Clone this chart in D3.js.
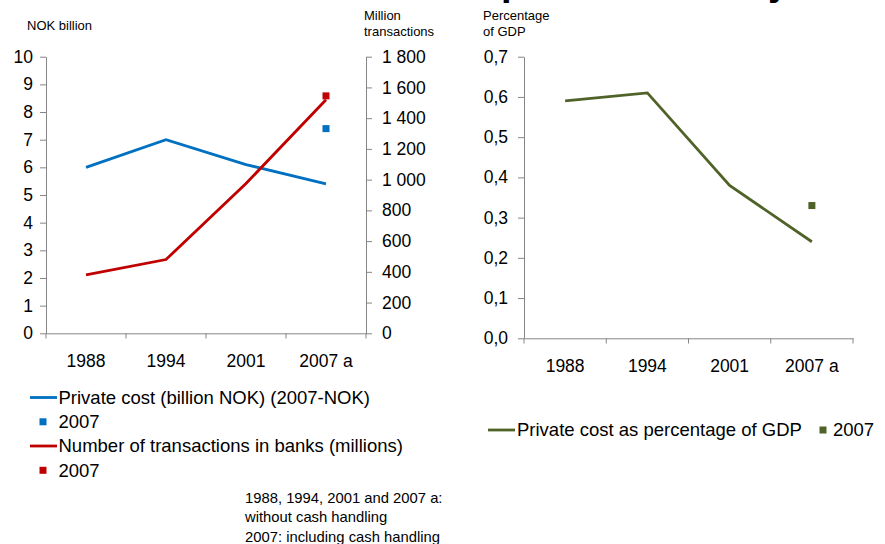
<!DOCTYPE html>
<html><head><meta charset="utf-8">
<script src="https://cdn.jsdelivr.net/npm/d3@7"></script>
<style>
html,body{margin:0;padding:0;background:#fff;}
svg{display:block;font-family:"Liberation Sans",Arial,sans-serif;}
</style></head>
<body>
<svg id="c" width="885" height="544"></svg>
<script>
// ---- data ----
const categories = ["1988", "1994", "2001", "2007 a"];
const privateCost = [6.0, 7.0, 6.1, 5.4];          // NOK billion
const privateCost2007 = 7.4;                          // incl. cash handling
const transactions = [380, 480, 975, 1520];         // million transactions
const transactions2007 = 1545;
const costPctGDP = [0.59, 0.61, 0.38, 0.24];        // % of GDP
const costPctGDP2007 = 0.33;
const leftTicks = [0,1,2,3,4,5,6,7,8,9,10];
const rightTicks = [0,200,400,600,800,1000,1200,1400,1600,1800];
const gdpTicks = [0,0.1,0.2,0.3,0.4,0.5,0.6,0.7];
const legendLeft = ["Private cost (billion NOK) (2007-NOK)", "2007", "Number of transactions in banks (millions)", "2007"];
const legendRight = ["Private cost as percentage of GDP", "2007"];
const noteLines = ["1988, 1994, 2001 and 2007 a:", "without cash handling", "2007: including cash handling"];
const titleText = "Improved efficiency";

const BLUE = "#0070C0", RED = "#C00000", GREEN = "#4F6228", AXIS = "#868686";
const FS = 17.5, LFS = 18.5;

const svg = d3.select("#c");

// ---- partial title (cropped at top of the slide image) ----
const title = svg.append("text").text(titleText)
  .attr("font-weight", "bold").attr("font-size", 38).attr("x", 0).attr("y", 100).attr("fill", "#000");
{
  const n = title.node();
  const pIdx = titleText.indexOf("p"), yIdx = titleText.lastIndexOf("y");
  const d0 = n.getExtentOfChar(yIdx).x - n.getExtentOfChar(pIdx).x;
  const target = 768 - 501;
  const ls = (target - d0) / (yIdx - pIdx);
  title.attr("letter-spacing", ls);
  const px = n.getExtentOfChar(pIdx).x;
  title.attr("x", 501 - px).attr("y", -5.5);
}

// ---- left chart ----
const xL = d3.scaleBand().domain(categories).range([46, 366]);
const yL = d3.scaleLinear().domain([0, 10]).range([333.3, 56.7]);
const yR = d3.scaleLinear().domain([0, 1800]).range([333.3, 56.7]);
const fmtSpace = d => d3.format(",")(d).replace(/,/g, "\u00a0");

function styleAxis(g) {
  g.selectAll("path,line").attr("stroke", AXIS).attr("stroke-width", 1);
  g.selectAll("text").attr("fill", "#000").attr("font-size", FS)
    .attr("font-family", "Liberation Sans, Arial, sans-serif");
}

svg.append("g").attr("transform", "translate(46,0)")
  .call(d3.axisLeft(yL).tickValues(leftTicks).tickSize(6).tickSizeOuter(0).tickPadding(7).tickFormat(d3.format("d")))
  .call(styleAxis);
svg.append("g").attr("transform", "translate(366,0)")
  .call(d3.axisRight(yR).tickValues(rightTicks).tickSize(6).tickSizeOuter(0).tickPadding(10).tickFormat(fmtSpace))
  .call(styleAxis);
svg.append("g").attr("transform", "translate(0,333.3)")
  .call(d3.axisBottom(xL).tickSize(0).tickSizeOuter(0).tickPadding(21))
  .call(styleAxis);
svg.append("g").selectAll("line")
  .data(categories.map(c => xL(c)).concat([xL.range()[1]]))
  .join("line").attr("x1", d => d).attr("x2", d => d)
  .attr("y1", 333.3).attr("y2", 338.5).attr("stroke", AXIS);

const lineL = d3.line().x((d, i) => xL(categories[i]) + xL.bandwidth() / 2).y(d => yL(d));
const lineR = d3.line().x((d, i) => xL(categories[i]) + xL.bandwidth() / 2).y(d => yR(d));
svg.append("path").attr("d", lineL(privateCost)).attr("fill", "none").attr("stroke", BLUE).attr("stroke-width", 2.8);
svg.append("path").attr("d", lineR(transactions)).attr("fill", "none").attr("stroke", RED).attr("stroke-width", 2.8);
const xLast = xL(categories[3]) + xL.bandwidth() / 2;
svg.append("rect").attr("x", xLast - 3.5).attr("y", yL(privateCost2007) - 3.5).attr("width", 7).attr("height", 7).attr("fill", BLUE);
svg.append("rect").attr("x", xLast - 3.5).attr("y", yR(transactions2007) - 3.5).attr("width", 7).attr("height", 7).attr("fill", RED);

svg.append("text").attr("x", 27).attr("y", 30).attr("font-size", 13).text("NOK billion");
svg.append("text").attr("x", 364).attr("y", 20).attr("font-size", 13).text("Million");
svg.append("text").attr("x", 364).attr("y", 36).attr("font-size", 13).text("transactions");

// ---- right chart ----
const x2 = d3.scaleBand().domain(categories).range([524, 853]);
const y2 = d3.scaleLinear().domain([0, 0.7]).range([338.3, 56.7]);
svg.append("g").attr("transform", "translate(524,0)")
  .call(d3.axisLeft(y2).tickValues(gdpTicks).tickSize(6).tickSizeOuter(0).tickPadding(10)
    .tickFormat(d => d3.format(".1f")(d).replace(".", ",")))
  .call(styleAxis);
svg.append("g").attr("transform", "translate(0,338.3)")
  .call(d3.axisBottom(x2).tickSize(0).tickSizeOuter(0).tickPadding(21))
  .call(styleAxis);
svg.append("g").selectAll("line")
  .data(categories.map(c => x2(c)).concat([x2.range()[1]]))
  .join("line").attr("x1", d => d).attr("x2", d => d)
  .attr("y1", 338.3).attr("y2", 343.5).attr("stroke", AXIS);
const line2 = d3.line().x((d, i) => x2(categories[i]) + x2.bandwidth() / 2).y(d => y2(d));
svg.append("path").attr("d", line2(costPctGDP)).attr("fill", "none").attr("stroke", GREEN).attr("stroke-width", 2.8);
const x2Last = x2(categories[3]) + x2.bandwidth() / 2;
svg.append("rect").attr("x", x2Last - 3.5).attr("y", y2(costPctGDP2007) - 3.5).attr("width", 7).attr("height", 7).attr("fill", GREEN);
svg.append("text").attr("x", 483).attr("y", 20).attr("font-size", 13).text("Percentage");
svg.append("text").attr("x", 483).attr("y", 36).attr("font-size", 13).text("of GDP");

// ---- legends ----
const legL = svg.append("g");
const rowsY = [397.5, 421.8, 446, 470.3];
const legendKinds = [["line", BLUE], ["rect", BLUE], ["line", RED], ["rect", RED]];
legendLeft.forEach((t, i) => {
  const [kind, col] = legendKinds[i];
  if (kind === "line") legL.append("line").attr("x1", 30).attr("x2", 57).attr("y1", rowsY[i]).attr("y2", rowsY[i]).attr("stroke", col).attr("stroke-width", 2.8);
  else legL.append("rect").attr("x", 39.5).attr("y", rowsY[i] - 3.5).attr("width", 7).attr("height", 7).attr("fill", col);
  legL.append("text").attr("x", 58.5).attr("y", rowsY[i] + 6.3).attr("font-size", LFS).text(t);
});
const legR = svg.append("g");
legR.append("line").attr("x1", 488).attr("x2", 515).attr("y1", 430).attr("y2", 430).attr("stroke", GREEN).attr("stroke-width", 2.8);
legR.append("text").attr("x", 517).attr("y", 436.3).attr("font-size", LFS).text(legendRight[0]);
legR.append("rect").attr("x", 819.5).attr("y", 426.5).attr("width", 7).attr("height", 7).attr("fill", GREEN);
legR.append("text").attr("x", 833).attr("y", 436.3).attr("font-size", LFS).text(legendRight[1]);

// ---- note ----
noteLines.forEach((t, i) => {
  svg.append("text").attr("x", 245).attr("y", 502.5 + i * 19.5).attr("font-size", 14.8).text(t);
});
</script>
</body></html>
